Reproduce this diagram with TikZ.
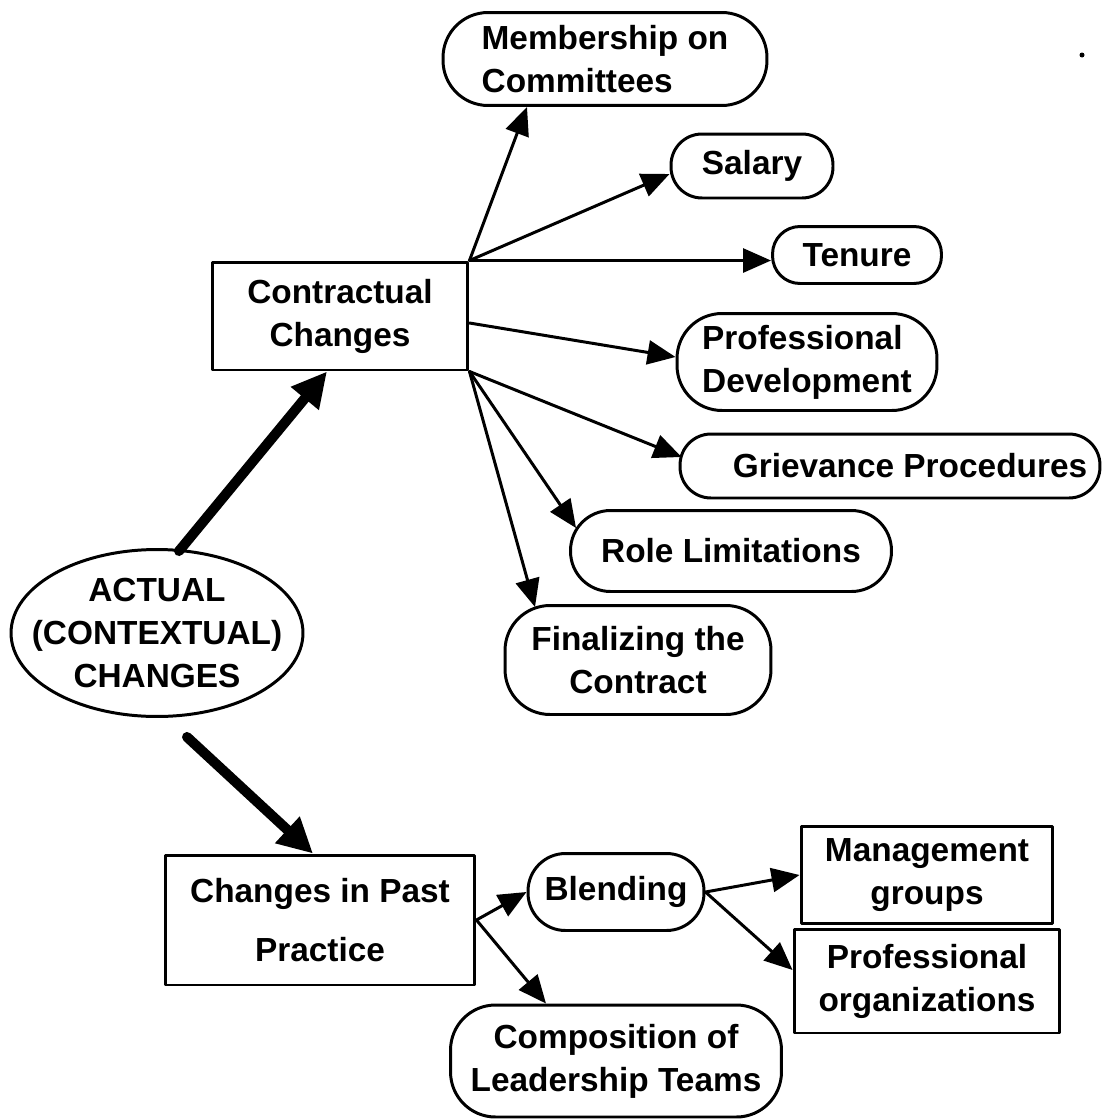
\documentclass[tikz,border=0pt]{standalone}
\usepackage{fontspec}
\setmainfont{Liberation Sans}
\usetikzlibrary{arrows.meta,shapes.geometric,calc}

\begin{document}
\begin{tikzpicture}[
		x=0.02cm,y=-0.02cm,
		>={Triangle[length=0.56cm,width=0.48cm]},
		line width=1.7pt,
		line cap=round,
		line join=round,
		box/.style={draw,inner sep=0pt,align=center,font=\fontsize{19}{24.5}\selectfont\bfseries},
		pill/.style={box,rounded corners=#1},
		bigarrow/.style={line width=5.7pt,-{Triangle[length=0.7cm,width=0.68cm]}}
		]
		\useasboundingbox (0,0) rectangle (1104,1119);
		% main nodes
		\node[box,ellipse,minimum width=5.84cm,minimum height=3.34cm] (act) at (157,633) {};
		\node[box,draw=none] (acttxt) at (act) {ACTUAL\\(CONTEXTUAL)\\CHANGES};
		\node[box,minimum width=5.12cm,minimum height=2.16cm] (cc) at (340,316) {Contractual\\Changes};
		\node[box,minimum width=6.2cm,minimum height=2.6cm] (cpp) at (320,920) {Changes in Past\\[0.32cm]Practice};
		% contractual branches
		\node[pill=0.9cm,align=left,minimum width=6.48cm,minimum height=1.86cm] (mem) at (605,59) {Membership on\\Committees};
		\node[pill=0.62cm,minimum width=3.24cm,minimum height=1.28cm] (sal) at (752,166) {Salary};
		\node[pill=0.55cm,minimum width=3.38cm,minimum height=1.14cm] (ten) at (857,255) {Tenure};
		\node[pill=0.9cm,align=left,minimum width=5.2cm,minimum height=1.94cm] (pd) at (807,362) {Professional\\Development};
		\node[pill=0.62cm,minimum width=8.4cm,minimum height=1.28cm] (gr) at (890,466) {\hspace*{0.8cm}Grievance Procedures};
		\node[pill=0.8cm,minimum width=6.42cm,minimum height=1.62cm] (rl) at (731,551) {Role Limitations};
		\node[pill=0.9cm,minimum width=5.32cm,minimum height=2.18cm] (fin) at (638,660) {Finalizing the\\Contract};
		% past practice branches
		\node[pill=0.75cm,minimum width=3.52cm,minimum height=1.54cm] (bl) at (616,892) {Blending};
		\node[pill=0.9cm,minimum width=6.62cm,minimum height=2.24cm] (comp) at (616,1061) {Composition of\\Leadership Teams};
		\node[box,minimum width=5.04cm,minimum height=1.94cm] (mg) at (927,875) {Management\\groups};
		\node[box,minimum width=5.32cm,minimum height=2.08cm] (po) at (927,981) {Professional\\organizations};
		\fill (1082,55) circle[radius=0.05cm];
		% arrows
		\draw[bigarrow] ($(act.north)+(22,3)$) -- ($(cc.south)+(-13,0)$);
		\draw[bigarrow] ($(act.south)+(30,19)$) -- ($(cpp.north)+(-7,0)$);
		\draw[->] (cc.north east) -- ($(mem.south)+(-78,0)$);
		\draw[->] (cc.north east) -- ($(sal.west)+(0,8)$);
		\draw[->] (cc.north east) -- (cc.north east -| ten.west);
		\draw[->] ($(cc.east)+(0,7)$) -- ($(pd.west)+(0,-5)$);
		\draw[->] (cc.south east) -- ($(gr.west)+(3,-9)$);
		\draw[->] (cc.south east) -- ($(rl.west)+(7,-23)$);
		\draw[->] (cc.south east) -- ($(fin.north)+(-103,3)$);
		\draw[->] (cpp.east) -- (bl.west);
		\draw[->] (cpp.east) -- ($(comp.north)+(-70,0)$);
		\draw[->] (bl.east) -- (mg.west);
		\draw[->] (bl.east) -- ($(po.west)+(0,-11)$);
	\end{tikzpicture}
\end{document}
